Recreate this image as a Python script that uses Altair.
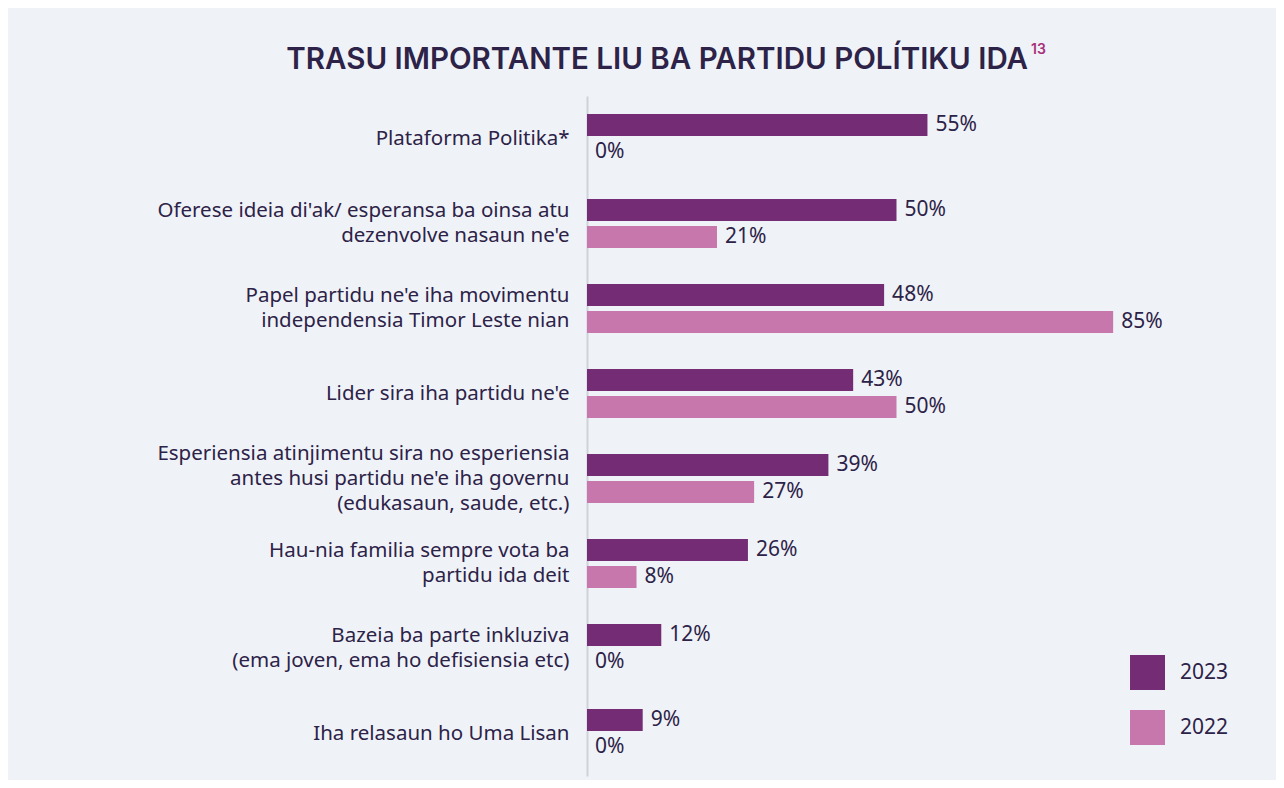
import altair as alt
import pandas as pd

categories = [
    "Plataforma Politika*",
    "Oferese ideia di'ak/ esperansa ba oinsa atu|dezenvolve nasaun ne'e",
    "Papel partidu ne'e iha movimentu|independensia Timor Leste nian",
    "Lider sira iha partidu ne'e",
    "Esperiensia atinjimentu sira no esperiensia|antes husi partidu ne'e iha governu|(edukasaun, saude, etc.)",
    "Hau-nia familia sempre vota ba|partidu ida deit",
    "Bazeia ba parte inkluziva|(ema joven, ema ho defisiensia etc)",
    "Iha relasaun ho Uma Lisan",
]
values_2023 = [55, 50, 48, 43, 39, 26, 12, 9]
values_2022 = [0, 21, 85, 50, 27, 8, 0, 0]
years = ["2023", "2022"]
title_text = "TRASU IMPORTANTE LIU BA PARTIDU POLÍTIKU IDA"
title_note = "13"

rows = []
for c, a, b in zip(categories, values_2023, values_2022):
    rows.append({"cat": c, "year": "2023", "val": a})
    rows.append({"cat": c, "year": "2022", "val": b})
df = pd.DataFrame(rows)

TXT = "#2d2247"
colors = ["#742c75", "#c877ad"]
LH = 25

label_offset = {
    "condition": [
        {"test": "length(split(datum.value, '|')) == 3", "value": -LH},
        {"test": "length(split(datum.value, '|')) == 2", "value": -LH / 2},
    ],
    "value": 0,
}

y_enc = alt.Y("cat:N", sort=categories, title=None,
              scale=alt.Scale(paddingInner=0, paddingOuter=0),
              axis=alt.Axis(labelExpr="split(datum.label, '|')", labelLimit=600,
                            labelFont="Noto Sans", labelFontSize=20.5, labelColor=TXT,
                            labelLineHeight=LH, labelPadding=18, ticks=False,
                            labelOffset=label_offset,
                            domainColor="#cfd2d8", domainWidth=2, grid=False))
yoff = alt.YOffset("year:N", sort=years,
                   scale=alt.Scale(domain=years, paddingInner=0.185, paddingOuter=0.667))
x_enc = alt.X("val:Q", scale=alt.Scale(domain=[0, 100]), axis=None)

base = alt.Chart(df)
bars = base.mark_bar().encode(
    x=x_enc, y=y_enc, yOffset=yoff,
    color=alt.Color("year:N", sort=years,
                    scale=alt.Scale(domain=years, range=colors),
                    legend=alt.Legend(title=None, orient="none", legendX=543, legendY=559,
                                      symbolType="square", symbolSize=1225,
                                      symbolStrokeWidth=0, symbolOpacity=1,
                                      labelFont="Noto Sans", labelFontSize=21,
                                      labelColor=TXT, labelOffset=15, rowPadding=20,
                                      padding=0)),
)
labels = base.mark_text(align="left", baseline="middle", dx=8, font="Noto Sans",
                        fontSize=21, color=TXT).transform_calculate(
    lbl="datum.val + '%'"
).encode(x=x_enc, y=y_enc, yOffset=yoff, text="lbl:N")

tdf = pd.DataFrame({"t": [title_text], "n": [title_note]})
title_mark = alt.Chart(tdf).mark_text(align="right", baseline="alphabetic", font="Inter",
                                      fontWeight=600, fontSize=29.5,
                                      color="#2d2247").encode(
    text="t:N", x=alt.value(441), y=alt.value(-27))
note_mark = alt.Chart(tdf).mark_text(align="left", baseline="alphabetic", font="Inter",
                                     fontWeight=600, fontSize=14,
                                     color="#a8327a").encode(
    text="n:N", x=alt.value(444), y=alt.value(-42))

chart = alt.layer(bars, labels, title_mark, note_mark).properties(
    width=619, height=680,
    autosize=alt.AutoSizeParams(type="none"),
    padding={"left": 579, "top": 88, "right": 70, "bottom": 4},
    background="#eff3f8",
).configure_view(stroke=None)

chart.save("out.html", embed_options={"renderer": "svg", "actions": False})
